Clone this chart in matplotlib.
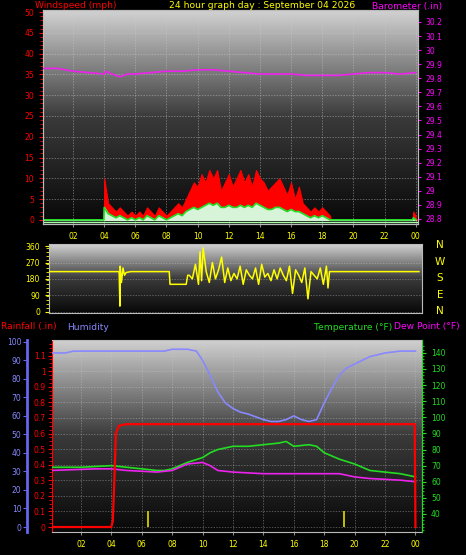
import numpy as np
import matplotlib
matplotlib.use("Agg")
import matplotlib.pyplot as plt
from matplotlib.colors import LinearSegmentedColormap

# ---------------- data ----------------
hour_ticks = [2, 4, 6, 8, 10, 12, 14, 16, 18, 20, 22, 24]
hour_labels = ["02", "04", "06", "08", "10", "12", "14", "16", "18", "20", "22", "00"]

gust_t = [0, 3.98, 4.0, 4.25, 4.5, 4.75, 5.0, 5.25, 5.5, 5.75, 6.0, 6.25, 6.5, 6.75, 7.0, 7.25, 7.5, 7.75,
          8.0, 8.25, 8.5, 8.75, 9.0, 9.25, 9.5, 9.75, 10.0, 10.25, 10.5, 10.75, 11.0, 11.25, 11.5,
          11.75, 12.0, 12.25, 12.5, 12.75, 13.0, 13.25, 13.5, 13.75, 14.0, 14.25, 14.5, 14.75,
          15.0, 15.25, 15.5, 15.75, 16.0, 16.25, 16.5, 16.75, 17.0, 17.25, 17.5, 17.75, 18.0,
          18.25, 18.5, 18.55, 23.8, 23.85, 24.0]
gust_v = [0, 0, 10, 4, 3, 2, 3, 2, 1, 2, 1, 2, 1, 3, 2, 1, 3, 2,
          1, 2, 3, 4, 3, 5, 7, 9, 8, 11, 9, 12, 10, 12, 7,
          9, 11, 8, 10, 12, 9, 11, 8, 12, 10, 9, 7, 8,
          9, 10, 8, 6, 9, 5, 8, 4, 3, 2, 3, 2, 3,
          2, 1, 0, 0, 2, 1]
avg_v = [0, 0, 3, 1.5, 1, 0.5, 1, 0.5, 0, 0.5, 0, 0.5, 0, 1, 0.5, 0, 1, 0.5,
         0, 0.5, 1, 1.5, 1, 2, 2.5, 3, 2.5, 3, 3.5, 4, 3.5, 4, 3,
         3, 3.5, 3, 3, 3.5, 3, 3.5, 3, 4, 3.5, 3, 2.5, 2.5,
         3, 3, 2.5, 2, 2.5, 2, 2, 1.5, 1, 0.5, 1, 0.5, 1,
         0.5, 0, 0, 0, 0.5, 0]

baro_t = [0, 1, 2, 3, 4, 4.1, 4.5, 5, 5.5, 6, 7, 8, 9, 10, 11, 12, 13, 14, 15, 16, 17, 18, 19, 20, 21, 22, 23, 24]
baro_v = [29.87, 29.87, 29.85, 29.84, 29.83, 29.85, 29.83, 29.81, 29.83, 29.83, 29.84, 29.85, 29.85,
          29.86, 29.86, 29.85, 29.84, 29.83, 29.83, 29.83, 29.82, 29.82, 29.82, 29.83, 29.84, 29.84, 29.83, 29.84]

dir_t = [0, 4.55, 4.6, 4.62, 4.7, 4.8, 4.9, 5.0, 5.3, 7.8, 7.85, 8.1, 8.9, 9.0, 9.1, 9.3,
         9.5, 9.7, 9.8, 9.9, 10.0, 10.2, 10.4, 10.6, 10.8, 11.0, 11.2, 11.4, 11.6, 11.8, 12.0,
         12.2, 12.4, 12.6, 12.8, 13.0, 13.2, 13.4, 13.6, 13.8, 14.0, 14.2, 14.4, 14.6, 14.8,
         15.0, 15.2, 15.4, 15.6, 15.8, 16.0, 16.2, 16.4, 16.6, 16.8, 17.0, 17.2, 17.4, 17.6,
         17.8, 18.0, 18.1, 18.2, 24]
dir_v = [220, 220, 30, 250, 160, 240, 200, 215, 220, 220, 150, 150, 150, 200, 200, 180,
         260, 150, 330, 170, 350, 220, 160, 270, 180, 230, 300, 160, 240, 170, 210,
         180, 250, 150, 230, 200, 180, 240, 150, 260, 190, 210, 170, 230, 180,
         240, 200, 170, 250, 100, 230, 200, 160, 240, 70, 220, 200, 180, 240, 150, 250, 130, 220, 220]

hum_t = [0, 1, 1.5, 3, 6, 7.5, 8, 9, 9.6, 10, 10.5, 11, 11.5, 12, 12.5, 13, 14, 14.5, 15, 15.5,
         16, 16.5, 17, 17.5, 18, 18.5, 19, 19.5, 20, 21, 22, 23, 24]
hum_v = [94, 94, 95, 95, 95, 95, 96, 96, 95, 90, 82, 73, 67, 64, 62, 61, 58, 57, 57, 58,
         60, 58, 57, 58, 67, 75, 82, 86, 88, 92, 94, 95, 95]

temp_t = [0, 2, 4, 5, 6, 7, 7.5, 8, 9, 10, 10.5, 11, 12, 13, 14, 15, 15.5, 16, 17, 17.5, 18, 19, 20, 21, 22, 23, 24]
temp_v = [69, 69, 70, 69, 68, 67, 67, 68, 72, 75, 78, 80, 82, 82, 83, 84, 85, 82, 83, 82, 78, 74, 71, 67, 66, 65, 63]

dew_t = [0, 3, 4, 5, 7, 8, 9, 10, 10.5, 11, 12, 14, 16, 17, 19, 20, 21, 23, 24]
dew_v = [67, 68, 68, 67, 66, 67, 71, 72, 70, 67, 66, 65, 65, 65, 65, 63, 62, 61, 60]

rain_t = [0, 4.0, 4.1, 4.2, 4.3, 4.5, 5.0, 23.95, 24.0]
rain_v = [0, 0, 0.04, 0.3, 0.6, 0.65, 0.66, 0.66, 0.0]

rate_t = [6.4, 19.3]
rate_v = [0.1, 0.1]

# ---------------- figure ----------------
W, H = 466, 555
fig = plt.figure(figsize=(W / 100, H / 100), dpi=100, facecolor="black")

def ax_px(l, t, r, b):
    return fig.add_axes([l / W, 1 - b / H, (r - l) / W, (b - t) / H])

cmap = LinearSegmentedColormap.from_list("g", ["#080808", "#3a3a3a", "#d2d2d2"])

def background(ax):
    ax.set_facecolor("black")
    ax.imshow(np.linspace(1, 0, 256).reshape(-1, 1), cmap=cmap, aspect="auto",
              extent=[0, 1, 0, 1], transform=ax.transAxes, zorder=0)
    for s in ax.spines.values():
        s.set_color("#bbbbbb")

def xaxis(ax, xmin, xmax):
    ax.set_xlim(xmin, xmax)
    ax.set_xticks(hour_ticks)
    ax.set_xticklabels(hour_labels, color="yellow", fontsize=5.5)
    ax.tick_params(axis="x", colors="#888888", labelcolor="yellow", length=2)

FS = 6.6
# ---- top panel: wind + barometer ----
ax1 = ax_px(43, 10, 418, 224)
background(ax1)
xaxis(ax1, 0.07, 24.15)
ax1.set_ylim(-1, 50.5)
ax1.set_yticks(range(0, 51, 5))
ax1.set_yticks(range(0, 51, 1), minor=True)
ax1.tick_params(axis="y", colors="red", labelsize=5.5, length=3)
ax1.tick_params(axis="y", which="minor", colors="red", length=2)
ax1.grid(True, color="#cccccc", lw=0.5, ls=(0, (2, 2)), alpha=0.6)
ax1.fill_between(gust_t, 0, gust_v, color="red", zorder=3, lw=0.8, edgecolor="red")
ax1.plot([0, 24.2], [0, 0], color="red", lw=1.2, zorder=3)
ax1.fill_between(gust_t, 0, avg_v, color="#d8f4d8", zorder=4)
ax1.plot(gust_t, avg_v, color="#22dd22", lw=1.2, zorder=5)
ax1.plot([0, 24.2], [-0.6, -0.6], color="#aaffaa", lw=1, zorder=5)
ax1b = ax1.twinx()
ax1b.set_ylim(28.764, 30.285)
ax1b.set_yticks([28.8, 28.9, 29.0, 29.1, 29.2, 29.3, 29.4, 29.5, 29.6, 29.7, 29.8, 29.9, 30.0, 30.1, 30.2])
ax1b.set_yticklabels(["28.8", "28.9", "29", "29.1", "29.2", "29.3", "29.4", "29.5", "29.6", "29.7",
                      "29.8", "29.9", "30", "30.1", "30.2"])
ax1b.tick_params(axis="y", colors="magenta", labelsize=5.5, length=2)
ax1b.plot(baro_t, baro_v, color="#ee22ee", lw=1.2, zorder=5)
for s in ax1b.spines.values():
    s.set_color("#bbbbbb")
fig.text(35 / W, 1 - 6 / H, "Windspeed (mph)", color="red", fontsize=FS, va="center")
fig.text(262 / W, 1 - 6 / H, "24 hour graph day : September 04 2026", color="yellow", fontsize=FS,
         va="center", ha="center")
fig.text(372 / W, 1 - 6 / H, "Barometer (.in)", color="magenta", fontsize=FS, va="center")

# ---- middle panel: wind direction ----
ax2 = ax_px(49, 244, 422, 313)
background(ax2)
ax2.set_xlim(0, 24.2)
ax2.set_xticks(hour_ticks)
ax2.set_xticklabels([])
ax2.tick_params(axis="x", length=0)
ax2.set_ylim(-8, 372)
ax2.set_yticks([0, 90, 180, 270, 360])
ax2.set_yticks(range(0, 361, 22), minor=True)
ax2.tick_params(axis="y", colors="yellow", labelsize=5.5, length=3)
ax2.tick_params(axis="y", which="minor", colors="yellow", length=2)
ax2.grid(True, axis="y", color="#cccccc", lw=0.5, ls=(0, (2, 2)), alpha=0.5)
ax2.plot(dir_t, dir_v, color="yellow", lw=1.1, zorder=4)
for lab, yy in zip(["N", "W", "S", "E", "N"], [245, 262, 278, 295, 311]):
    fig.text(440 / W, 1 - yy / H, lab, color="yellow", fontsize=7.5, ha="center", va="center")

# ---- bottom panel ----
fig.text(1 / W, 1 - 327 / H, "Rainfall (.in)", color="red", fontsize=FS, va="center")
fig.text(67 / W, 1 - 327 / H, "Humidity", color="#8888ff", fontsize=FS, va="center")
fig.text(392 / W, 1 - 327 / H, "Temperature (°F)", color="#22dd22", fontsize=FS, va="center", ha="right")
fig.text(394 / W, 1 - 327 / H, "Dew Point (°F)", color="magenta", fontsize=FS, va="center")

ax3 = ax_px(52, 340, 422, 532)
background(ax3)
xaxis(ax3, 0.1, 24.43)
ax3.set_ylim(-0.032, 1.2)
ax3.set_yticks([0, 0.1, 0.2, 0.3, 0.4, 0.5, 0.6, 0.7, 0.8, 0.9, 1.0, 1.1])
ax3.set_yticklabels(["0", "0.1", "0.2", "0.3", "0.4", "0.5", "0.6", "0.7", "0.8", "0.9", "1", "1.1"])
ax3.set_yticks(np.arange(0, 1.2, 0.025), minor=True)
ax3.tick_params(axis="y", colors="red", labelsize=5.5, length=3, pad=1.5)
ax3.tick_params(axis="y", which="minor", colors="red", length=2)
ax3.spines["left"].set_color("red")
ax3.grid(True, color="#cccccc", lw=0.5, ls=(0, (2, 2)), alpha=0.5)

axh = ax3.twinx()
axh.spines["right"].set_visible(False)
axh.spines["top"].set_visible(False)
axh.spines["bottom"].set_visible(False)
axh.spines["left"].set_visible(True)
axh.spines["left"].set_position(("outward", 18))
axh.spines["left"].set_color("#6666ee")
axh.spines["left"].set_linewidth(2)
axh.yaxis.set_ticks_position("left")
axh.yaxis.set_label_position("left")
axh.set_ylim(-2.7, 101)
axh.set_yticks(range(0, 101, 10))
axh.tick_params(axis="y", colors="#6666ee", labelcolor="#8888ff", labelsize=5.5, length=3, pad=1)
axh.plot(hum_t, hum_v, color="#8888ff", lw=1.2, zorder=4)

axt = ax3.twinx()
axt.spines["right"].set_color("#22dd22")
for k in ["top", "bottom", "left"]:
    axt.spines[k].set_visible(False)
axt.set_ylim(28.8, 148)
axt.set_yticks(range(40, 141, 10))
axt.set_yticks(range(30, 146, 2), minor=True)
axt.tick_params(axis="y", colors="#22dd22", labelsize=5.5, length=3)
axt.tick_params(axis="y", which="minor", colors="#22dd22", length=1.5)
axt.plot(temp_t, temp_v, color="#22dd22", lw=1.2, zorder=4)
axt.plot(dew_t, dew_v, color="#ee22ee", lw=1.2, zorder=4)

axr = ax3.twinx()
axr.set_ylim(-0.032, 1.2)
axr.axis("off")
axr.bar(rate_t, rate_v, width=0.1, color="#bbbb00", zorder=3)
axr.plot(rain_t, rain_v, color="red", lw=1.6, zorder=6)

fig.savefig("out.png", dpi=100, facecolor="black")
